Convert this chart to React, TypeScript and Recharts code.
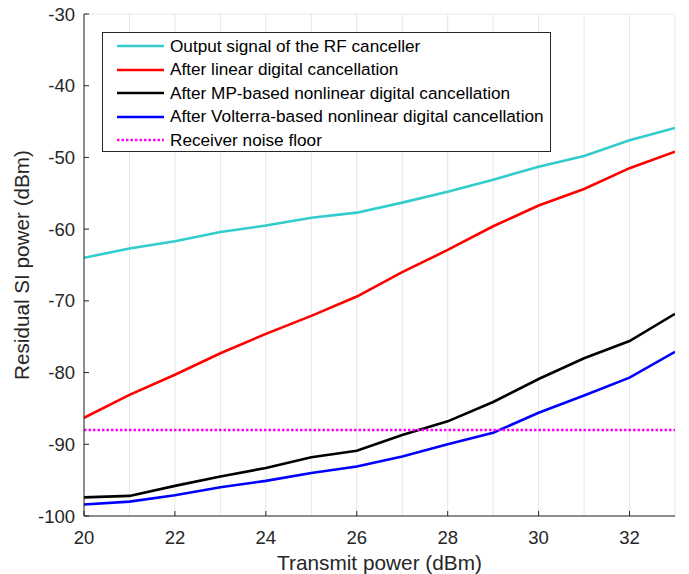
import {
  LineChart,
  Line,
  XAxis,
  YAxis,
  CartesianGrid,
  Label,
} from 'recharts';

const transmitPower = [20, 21, 22, 23, 24, 25, 26, 27, 28, 29, 30, 31, 32, 33];
const rfCanceller = [-64, -62.7, -61.7, -60.4, -59.5, -58.4, -57.7, -56.3, -54.8, -53.1, -51.3, -49.8, -47.6, -45.9];
const linearDigital = [-86.3, -83.1, -80.3, -77.3, -74.6, -72.1, -69.4, -66, -62.9, -59.6, -56.7, -54.4, -51.5, -49.2];
const mpNonlinear = [-97.4, -97.2, -95.8, -94.5, -93.3, -91.8, -90.9, -88.7, -86.8, -84.1, -80.9, -78, -75.6, -71.8];
const volterraNonlinear = [-98.4, -98, -97.1, -96, -95.1, -94, -93.1, -91.7, -90, -88.4, -85.6, -83.2, -80.7, -77.1];
const noiseFloor = [-88, -88, -88, -88, -88, -88, -88, -88, -88, -88, -88, -88, -88, -88];

const xTicks = [20, 22, 24, 26, 28, 30, 32];
const yTicks = [-100, -90, -80, -70, -60, -50, -40, -30];

const rows = transmitPower.map((p, i) => ({
  p,
  rf: rfCanceller[i],
  lin: linearDigital[i],
  mp: mpNonlinear[i],
  vol: volterraNonlinear[i],
  noise: noiseFloor[i],
}));

const series = [
  { key: 'rf', name: 'Output signal of the RF canceller', color: '#33cccc', dash: undefined },
  { key: 'lin', name: 'After linear digital cancellation', color: '#ff0000', dash: undefined },
  { key: 'mp', name: 'After MP-based nonlinear digital cancellation', color: '#000000', dash: undefined },
  { key: 'vol', name: 'After Volterra-based nonlinear digital cancellation', color: '#0000ff', dash: undefined },
  { key: 'noise', name: 'Receiver noise floor', color: '#ff00ff', dash: '2.5 2' },
];

const FONT = '"Liberation Sans", Arial, Helvetica, sans-serif';
const AXIS = '#262626';

// legend drawn as an overlay so it doesn't steal plot height
const LegendBox = () => (
  <div
    style={{
      position: 'absolute',
      left: 102,
      top: 32,
      width: 449,
      height: 120,
      border: '1px solid #262626',
      background: '#fff',
      boxSizing: 'border-box',
      paddingTop: 1.5,
      fontFamily: FONT,
      fontSize: 17.2,
      color: '#000',
    }}
  >
    {series.map((s) => (
      <div key={s.key} style={{ display: 'flex', alignItems: 'center', height: 23.5 }}>
        <svg width={67} height={10} style={{ flex: 'none' }}>
          <line
            x1={14}
            x2={61}
            y1={5}
            y2={5}
            stroke={s.color}
            strokeWidth={2.6}
            strokeDasharray={s.dash}
          />
        </svg>
        <span style={{ whiteSpace: 'nowrap' }}>{s.name}</span>
      </div>
    ))}
  </div>
);

export default function App() {
  return (
    <div style={{ position: 'absolute', left: 0, top: 0, width: 689, height: 574, fontFamily: FONT }}>
      <LineChart
        width={689}
        height={574}
        data={rows}
        margin={{ top: 14, right: 14, left: 0, bottom: 28 }}
      >
        <CartesianGrid stroke="#e6e6e6" strokeWidth={1} />
        <XAxis
          xAxisId="b"
          dataKey="p"
          type="number"
          domain={[20, 33]}
          ticks={xTicks}
          interval={0}
          allowDataOverflow
          height={30}
          stroke={AXIS}
          tickSize={-5}
          tickMargin={20}
          tick={{ fill: AXIS, fontSize: 18.5, fontFamily: FONT }}
        >
          <Label
            value="Transmit power (dBm)"
            position="bottom"
            offset={9}
            style={{ fill: AXIS, fontSize: 20.8, fontFamily: FONT }}
          />
        </XAxis>
        <XAxis
          xAxisId="t"
          orientation="top"
          type="number"
          domain={[20, 33]}
          ticks={xTicks}
          allowDataOverflow
          stroke={AXIS}
          tickSize={-5}
          tickFormatter={() => ''}
          height={0}
        />
        <YAxis
          yAxisId="l"
          type="number"
          domain={[-100, -30]}
          ticks={yTicks}
          interval={0}
          allowDataOverflow
          width={84}
          stroke={AXIS}
          tickSize={-5}
          tickMargin={14}
          tick={{ fill: AXIS, fontSize: 18.5, fontFamily: FONT }}
        >
          <Label
            value="Residual SI power (dBm)"
            angle={-90}
            position="insideLeft"
            offset={22}
            style={{ fill: AXIS, fontSize: 20.7, fontFamily: FONT, textAnchor: 'middle' }}
          />
        </YAxis>
        <YAxis
          yAxisId="r"
          orientation="right"
          type="number"
          domain={[-100, -30]}
          ticks={yTicks}
          allowDataOverflow
          stroke={AXIS}
          tickSize={-5}
          tickFormatter={() => ''}
          width={0}
        />
        {series.map((s) => (
          <Line
            key={s.key}
            xAxisId="b"
            yAxisId="l"
            type="linear"
            dataKey={s.key}
            name={s.name}
            stroke={s.color}
            strokeWidth={s.dash ? 2.4 : 2.6}
            strokeDasharray={s.dash}
            dot={false}
            activeDot={false}
            isAnimationActive={false}
          />
        ))}
      </LineChart>
      <LegendBox />
    </div>
  );
}
